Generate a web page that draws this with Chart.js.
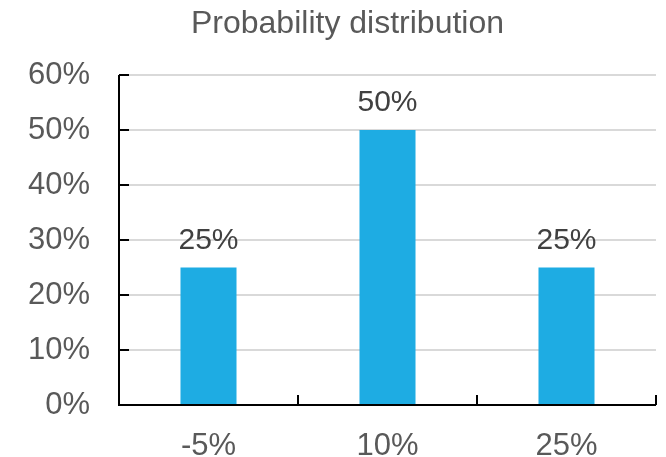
<!DOCTYPE html>
<html>
<head>
<meta charset="utf-8">
<script src="https://cdn.jsdelivr.net/npm/chart.js@4/dist/chart.umd.min.js"></script>
<style>
  html, body { margin: 0; padding: 0; background: #fff; }
  #wrap { width: 666px; height: 457px; }
</style>
</head>
<body>
<div id="wrap"><canvas id="c" width="666" height="457"></canvas></div>
<script>
// Outcome categories and their probabilities
const outcomes = ['-5%', '10%', '25%'];
const probabilities = [0.25, 0.50, 0.25];
const yMax = 0.6;
const yStep = 0.1;
const chartTitle = 'Probability distribution';

const FONT = '"Liberation Sans", Arial, sans-serif';
const pct = v => Math.round(v * 100) + '%';

// Title, centred over the area spanned by the y labels and the plot
const titlePlugin = {
  id: 'titleText',
  afterDraw(chart) {
    const { ctx, chartArea: a } = chart;
    ctx.save();
    ctx.font = '32px ' + FONT;
    ctx.fillStyle = '#595959';
    ctx.textAlign = 'center';
    ctx.textBaseline = 'alphabetic';
    ctx.fillText(chartTitle, (a.right + 39) / 2, a.top - 42);
    ctx.restore();
  }
};

// Draws the black axis lines with inward tick marks
const axesPlugin = {
  id: 'axes',
  afterDatasetsDraw(chart) {
    const { ctx, chartArea: a, scales } = chart;
    const x = scales.x, y = scales.y;
    ctx.save();
    ctx.strokeStyle = '#000';
    ctx.lineWidth = 2;
    ctx.beginPath();
    ctx.moveTo(a.left, a.top);
    ctx.lineTo(a.left, a.bottom);
    ctx.lineTo(a.right, a.bottom);
    // y ticks pointing inward
    y.ticks.forEach(t => {
      const py = y.getPixelForValue(t.value);
      ctx.moveTo(a.left, py);
      ctx.lineTo(a.left + 10, py);
    });
    // x ticks at category boundaries, pointing inward
    const n = outcomes.length;
    const step = x.getPixelForValue(1) - x.getPixelForValue(0);
    for (let i = 0; i < n; i++) {
      const px = x.getPixelForValue(i) + step / 2;
      ctx.moveTo(px, a.bottom);
      ctx.lineTo(px, a.bottom - 10);
    }
    ctx.stroke();
    ctx.restore();
  }
};

// Value labels above each bar
const valueLabels = {
  id: 'valueLabels',
  afterDatasetsDraw(chart) {
    const { ctx } = chart;
    const meta = chart.getDatasetMeta(0);
    ctx.save();
    ctx.font = '30px ' + FONT;
    ctx.fillStyle = '#404040';
    ctx.textAlign = 'center';
    ctx.textBaseline = 'alphabetic';
    meta.data.forEach((bar, i) => {
      ctx.fillText(pct(probabilities[i]), bar.x, bar.y - 19);
    });
    ctx.restore();
  }
};

new Chart(document.getElementById('c'), {
  type: 'bar',
  data: {
    labels: outcomes,
    datasets: [{
      data: probabilities,
      backgroundColor: '#1EACE3',
      borderWidth: 0,
      barPercentage: 0.313,
      categoryPercentage: 1.0
    }]
  },
  options: {
    responsive: false,
    animation: false,
    layout: { padding: { left: 0, right: 10, top: 75, bottom: 0 } },
    plugins: {
      legend: { display: false },
      tooltip: { enabled: false },
      title: { display: false }
    },
    scales: {
      x: {
        grid: { display: false },
        border: { display: false },
        ticks: {
          color: '#595959',
          font: { family: FONT, size: 31 },
          padding: 15
        },
        afterFit(scale) { scale.height = 52; }
      },
      y: {
        min: 0,
        max: yMax,
        grid: {
          color: ctx => ctx.tick && ctx.tick.value === 0 ? 'rgba(0,0,0,0)' : '#d9d9d9',
          lineWidth: 2,
          drawTicks: false
        },
        border: { display: false },
        ticks: {
          stepSize: yStep,
          color: '#595959',
          font: { family: FONT, size: 31 },
          padding: 29,
          callback: v => pct(v)
        },
        afterFit(scale) { scale.width = 119; }
      }
    }
  },
  plugins: [axesPlugin, valueLabels, titlePlugin]
});
</script>
</body>
</html>
